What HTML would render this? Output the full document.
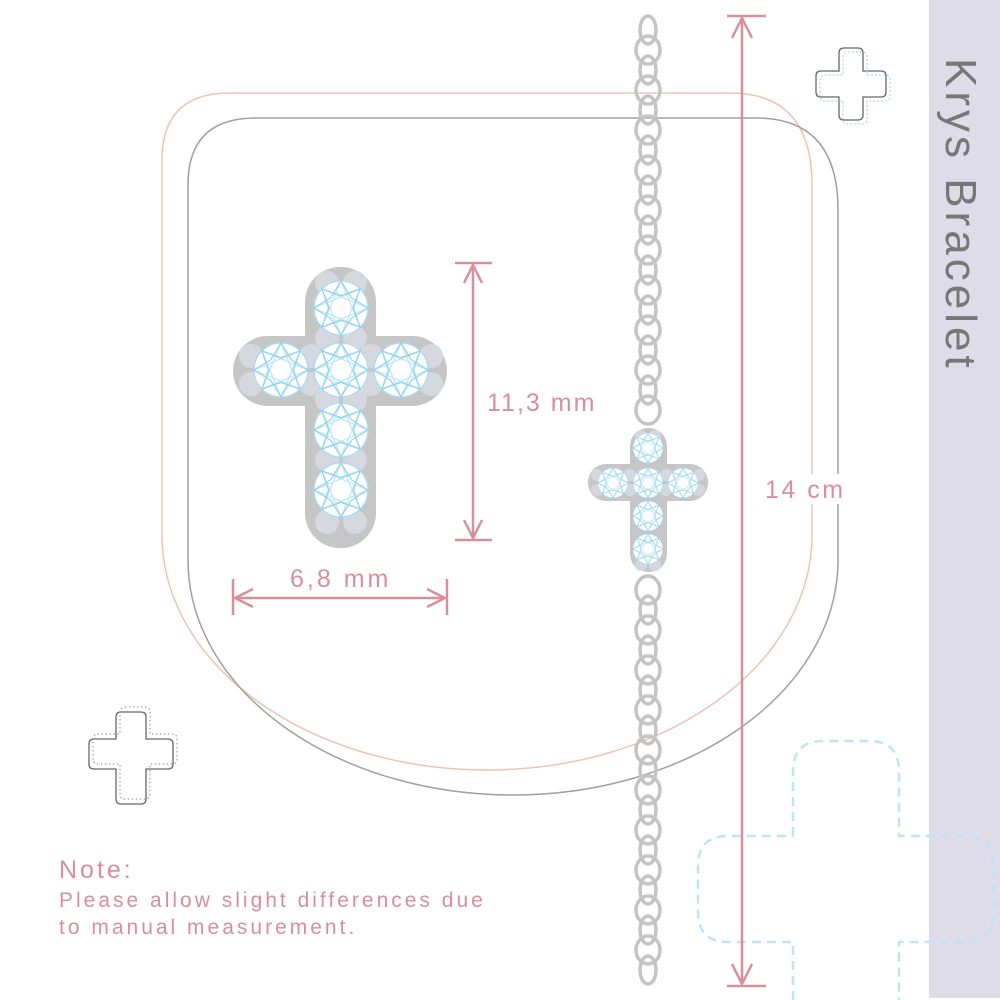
<!DOCTYPE html>
<html><head><meta charset="utf-8"><style>
html,body{margin:0;padding:0;background:#fff;}
svg{display:block;}
text{font-family:"Liberation Sans",sans-serif;}
</style></head><body>
<svg width="1000" height="1000" viewBox="0 0 1000 1000" xmlns="http://www.w3.org/2000/svg">
<defs>
<symbol id="st" viewBox="-10 -10 20 20" overflow="visible">
<circle r="10" fill="#fff" stroke="#a9dcf2" stroke-width="0.5"/>
<g fill="none" stroke="#8fd3f0" stroke-width="0.45">
<polygon points="0,-10 3.8,-3.8 10,0 3.8,3.8 0,10 -3.8,3.8 -10,0 -3.8,-3.8"/>
<polygon points="7.07,-7.07 4.6,0 7.07,7.07 0,4.6 -7.07,7.07 -4.6,0 -7.07,-7.07 0,-4.6"/>
<polygon points="0,-10 7.07,7.07 -10,0 7.07,-7.07 0,10 -7.07,-7.07 10,0 -7.07,7.07" opacity="0.6"/>
</g>
</symbol>
</defs>
<rect x="929" y="0" width="71" height="998" fill="#dedce8"/>
<text transform="translate(946,58) rotate(90)" font-size="44" fill="#777" letter-spacing="4">Krys Bracelet</text>

<path d="M162,160 Q162,93 230,93 L730,93 Q812,93 812,185 L812,535 A325,235 0 0 1 162,535 Z" fill="none" stroke="#ecc4b4" stroke-width="1.5"/>
<path d="M188,185 Q188,118 256,118 L756,118 Q838,118 838,210 L838,560 A325,235 0 0 1 188,560 Z" fill="none" stroke="#a0a0a0" stroke-width="1.5"/>

<path d="M793,836 L793,771 Q793,741 823,741 L869,741 Q899,741 899,771 L899,836 L963,836 Q993,836 993,866 L993,912 Q993,942 963,942 L899,942 L899,1000 M793,1000 L793,942 L728,942 Q698,942 698,912 L698,866 Q698,836 728,836 L793,836" fill="none" stroke="#bfe5f5" stroke-width="2.5" stroke-dasharray="9,6"/>

<g fill="none">
<path d="M844,48 h14 q5,0 5,5 v18 h18 q5,0 5,5 v16 q0,5 -5,5 h-18 v18 q0,5 -5,5 h-14 q-5,0 -5,-5 v-18 h-18 q-5,0 -5,-5 v-16 q0,-5 5,-5 h18 v-18 q0,-5 5,-5z" stroke="#666" stroke-width="1.3"/>
<path d="M848,52 h14 q5,0 5,5 v18 h18 q5,0 5,5 v16 q0,5 -5,5 h-18 v18 q0,5 -5,5 h-14 q-5,0 -5,-5 v-18 h-18 q-5,0 -5,-5 v-16 q0,-5 5,-5 h18 v-18 q0,-5 5,-5z" stroke="#a9d9ef" stroke-width="1.3" stroke-dasharray="2,2"/>
<path d="M121,712 h20 q5,0 5,5 v22 h22 q5,0 5,5 v20 q0,5 -5,5 h-22 v30 q0,5 -5,5 h-20 q-5,0 -5,-5 v-30 h-22 q-5,0 -5,-5 v-20 q0,-5 5,-5 h22 v-22 q0,-5 5,-5z" stroke="#666" stroke-width="1.3"/>
<path d="M125,707 h20 q5,0 5,5 v22 h22 q5,0 5,5 v20 q0,5 -5,5 h-22 v30 q0,5 -5,5 h-20 q-5,0 -5,-5 v-30 h-22 q-5,0 -5,-5 v-20 q0,-5 5,-5 h22 v-22 q0,-5 5,-5z" stroke="#9a9ad6" stroke-width="1.3" stroke-dasharray="1.5,2.5"/>
</g>

<g fill="none" stroke="#c4c4c4" stroke-width="3.5">
<ellipse cx="648" cy="30" rx="8" ry="14"/><ellipse cx="648" cy="50" rx="12" ry="14"/>
<ellipse cx="648" cy="70" rx="8" ry="14"/><ellipse cx="648" cy="90" rx="12" ry="14"/>
<ellipse cx="648" cy="110" rx="8" ry="14"/><ellipse cx="648" cy="130" rx="12" ry="14"/>
<ellipse cx="648" cy="150" rx="8" ry="14"/><ellipse cx="648" cy="170" rx="12" ry="14"/>
<ellipse cx="648" cy="190" rx="8" ry="14"/><ellipse cx="648" cy="210" rx="12" ry="14"/>
<ellipse cx="648" cy="230" rx="8" ry="14"/><ellipse cx="648" cy="250" rx="12" ry="14"/>
<ellipse cx="648" cy="270" rx="8" ry="14"/><ellipse cx="648" cy="290" rx="12" ry="14"/>
<ellipse cx="648" cy="310" rx="8" ry="14"/><ellipse cx="648" cy="330" rx="12" ry="14"/>
<ellipse cx="648" cy="350" rx="8" ry="14"/><ellipse cx="648" cy="370" rx="12" ry="14"/>
<ellipse cx="648" cy="390" rx="8" ry="14"/><ellipse cx="648" cy="410" rx="12" ry="14"/>
<ellipse cx="648" cy="590" rx="12" ry="14"/><ellipse cx="648" cy="610" rx="8" ry="14"/>
<ellipse cx="648" cy="630" rx="12" ry="14"/><ellipse cx="648" cy="650" rx="8" ry="14"/>
<ellipse cx="648" cy="670" rx="12" ry="14"/><ellipse cx="648" cy="690" rx="8" ry="14"/>
<ellipse cx="648" cy="710" rx="12" ry="14"/><ellipse cx="648" cy="730" rx="8" ry="14"/>
<ellipse cx="648" cy="750" rx="12" ry="14"/><ellipse cx="648" cy="770" rx="8" ry="14"/>
<ellipse cx="648" cy="790" rx="12" ry="14"/><ellipse cx="648" cy="810" rx="8" ry="14"/>
<ellipse cx="648" cy="830" rx="12" ry="14"/><ellipse cx="648" cy="850" rx="8" ry="14"/>
<ellipse cx="648" cy="870" rx="12" ry="14"/><ellipse cx="648" cy="890" rx="8" ry="14"/>
<ellipse cx="648" cy="910" rx="12" ry="14"/><ellipse cx="648" cy="930" rx="8" ry="14"/>
<ellipse cx="648" cy="950" rx="12" ry="14"/><ellipse cx="648" cy="970" rx="8" ry="14"/>
</g>

<g fill="#c6c6c6">
<rect x="305" y="267" width="71" height="281" rx="35"/>
<rect x="233" y="336" width="214" height="70" rx="35"/>
</g>
<g fill="#d6d8e0">
<circle cx="327" cy="283" r="12"/><circle cx="355" cy="283" r="12"/>
<circle cx="327" cy="338" r="12"/><circle cx="355" cy="338" r="12"/>
<circle cx="251" cy="356" r="12"/><circle cx="251" cy="384" r="12"/>
<circle cx="311" cy="356" r="12"/><circle cx="311" cy="384" r="12"/>
<circle cx="371" cy="356" r="12"/><circle cx="371" cy="384" r="12"/>
<circle cx="431" cy="356" r="12"/><circle cx="431" cy="384" r="12"/>
<circle cx="327" cy="400" r="12"/><circle cx="355" cy="400" r="12"/>
<circle cx="327" cy="460" r="12"/><circle cx="355" cy="460" r="12"/>
<circle cx="327" cy="522" r="12"/><circle cx="355" cy="522" r="12"/>
</g>
<use href="#st" x="314" y="281" width="54" height="54"/>
<use href="#st" x="314" y="343" width="54" height="54"/>
<use href="#st" x="254" y="343" width="54" height="54"/>
<use href="#st" x="374" y="343" width="54" height="54"/>
<use href="#st" x="314" y="403" width="54" height="54"/>
<use href="#st" x="314" y="463" width="54" height="54"/>

<g fill="#c6c6c6">
<rect x="630" y="428" width="37" height="144" rx="18"/>
<rect x="588" y="464" width="120" height="37" rx="18"/>
</g>
<g fill="#d6d8e0">
<circle cx="641" cy="436" r="6"/><circle cx="655" cy="436" r="6"/>
<circle cx="597" cy="475" r="6"/><circle cx="597" cy="490" r="6"/>
<circle cx="699" cy="475" r="6"/><circle cx="699" cy="490" r="6"/>
<circle cx="630" cy="475" r="6"/><circle cx="630" cy="490" r="6"/>
<circle cx="666" cy="475" r="6"/><circle cx="666" cy="490" r="6"/>
<circle cx="641" cy="565" r="6"/><circle cx="655" cy="565" r="6"/>
</g>
<use href="#st" x="633" y="433" width="30" height="30"/>
<use href="#st" x="633" y="468" width="30" height="30"/>
<use href="#st" x="598" y="468" width="30" height="30"/>
<use href="#st" x="668" y="468" width="30" height="30"/>
<use href="#st" x="633" y="501" width="30" height="30"/>
<use href="#st" x="633" y="534" width="30" height="30"/>

<g stroke="#d88f9b" stroke-width="2.5" fill="none">
<line x1="742" y1="18" x2="742" y2="984"/>
<line x1="727" y1="16" x2="766" y2="16"/><line x1="727" y1="986" x2="766" y2="986"/>
<polyline points="732,38 742,18 752,38"/><polyline points="732,964 742,984 752,964"/>
<line x1="473" y1="265" x2="473" y2="538"/>
<line x1="455" y1="263" x2="492" y2="263"/><line x1="455" y1="540" x2="492" y2="540"/>
<polyline points="464,283 473,265 482,283"/><polyline points="464,520 473,538 482,520"/>
<line x1="235" y1="598" x2="445" y2="598"/>
<line x1="233" y1="579" x2="233" y2="615"/><line x1="447" y1="579" x2="447" y2="615"/>
<polyline points="253,589 235,598 253,607"/><polyline points="427,589 445,598 427,607"/>
</g>
<rect x="762" y="474" width="84" height="30" fill="#fff"/>
<text x="765" y="498" font-size="25" fill="#d88f9b" letter-spacing="2.5">14 cm</text>
<text x="487" y="411" font-size="25" fill="#d88f9b" letter-spacing="2">11,3 mm</text>
<text x="290" y="587" font-size="25" fill="#d88f9b" letter-spacing="3">6,8 mm</text>

<text x="59" y="878" font-size="25" fill="#d88f9b" letter-spacing="3">Note:</text>
<text x="59" y="907" font-size="21" fill="#d88f9b" letter-spacing="3">Please allow slight differences due</text>
<text x="59" y="934" font-size="21" fill="#d88f9b" letter-spacing="3">to manual measurement.</text>
</svg>
</body></html>
